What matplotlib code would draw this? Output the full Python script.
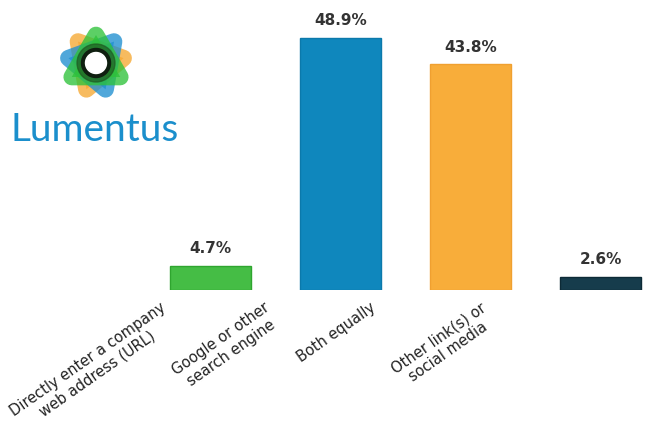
import matplotlib
matplotlib.use("Agg")
import matplotlib.pyplot as plt
import matplotlib.transforms as mtransforms
from matplotlib.patches import RegularPolygon, Circle
import numpy as np

categories = ["Directly enter a company\nweb address (URL)",
              "Google or other\nsearch engine",
              "Both equally",
              "Other link(s) or\nsocial media"]
values = [4.7, 48.9, 43.8, 2.6]
colors = ["#45bd45", "#0f87bd", "#f8ad3a", "#163c4c"]
edges = ["#2fa52f", "#0b79ab", "#f0a030", "#0d2a36"]
# how far each rotated label sits left of its bar (inches)
label_shift = [-0.51, -0.77, -1.01, -1.21]

fig = plt.figure(figsize=(6.5, 4.24), dpi=100)
ax = fig.add_axes([0, (424 - 290) / 424, 1, 290 / 424])

x = np.arange(len(categories))
bars = ax.bar(x, values, width=0.62, color=colors, edgecolor=edges, linewidth=1)
ax.set_xlim(-1.62, 3.38)
ax.set_ylim(0, 56.3)

for b, v in zip(bars, values):
    ax.annotate(f"{v}%", (b.get_x() + b.get_width() / 2, v), xytext=(0, 7),
                textcoords="offset points", ha="center", va="bottom",
                fontsize=11, fontweight="bold", color="#333333")

# rotated category labels, anchored at top-right and pushed left of their bar
for xi, lab, dx in zip(x, categories, label_shift):
    tr = ax.get_xaxis_transform() + mtransforms.ScaledTranslation(
        dx, -0.1, fig.dpi_scale_trans)
    ax.text(xi, 0, lab, transform=tr, rotation=35, rotation_mode="anchor",
            ha="right", va="top", multialignment="center",
            fontsize=10.5, color="#222222")

ax.set_xticks([])
ax.set_yticks([])
for s in ax.spines.values():
    s.set_visible(False)

# logo
lax = fig.add_axes([0, (424 - 160) / 424, 200 / 650, 160 / 424])
lax.set_xlim(0, 200)
lax.set_ylim(160, 0)
lax.axis("off")
cx, cy = 96, 63
for ang, col in [(20, "#f6a832"), (-20, "#1f8fd0"), (60, "#2ec23a")]:
    tri = RegularPolygon((cx, cy), 3, radius=28, orientation=np.deg2rad(ang),
                         facecolor=col, edgecolor=col, linewidth=12,
                         joinstyle="round", alpha=0.78)
    lax.add_patch(tri)
lax.add_patch(Circle((cx, cy), 19, color="#1f5a22", alpha=0.7))
lax.add_patch(Circle((cx, cy), 14.5, color="#0f1f10"))
lax.add_patch(Circle((cx, cy), 10.5, color="white"))
lax.text(95, 130, "Lumentus", ha="center", va="center", fontsize=28,
         family="Lato", color="#1b8fcc")

fig.savefig("out.png", dpi=100)
